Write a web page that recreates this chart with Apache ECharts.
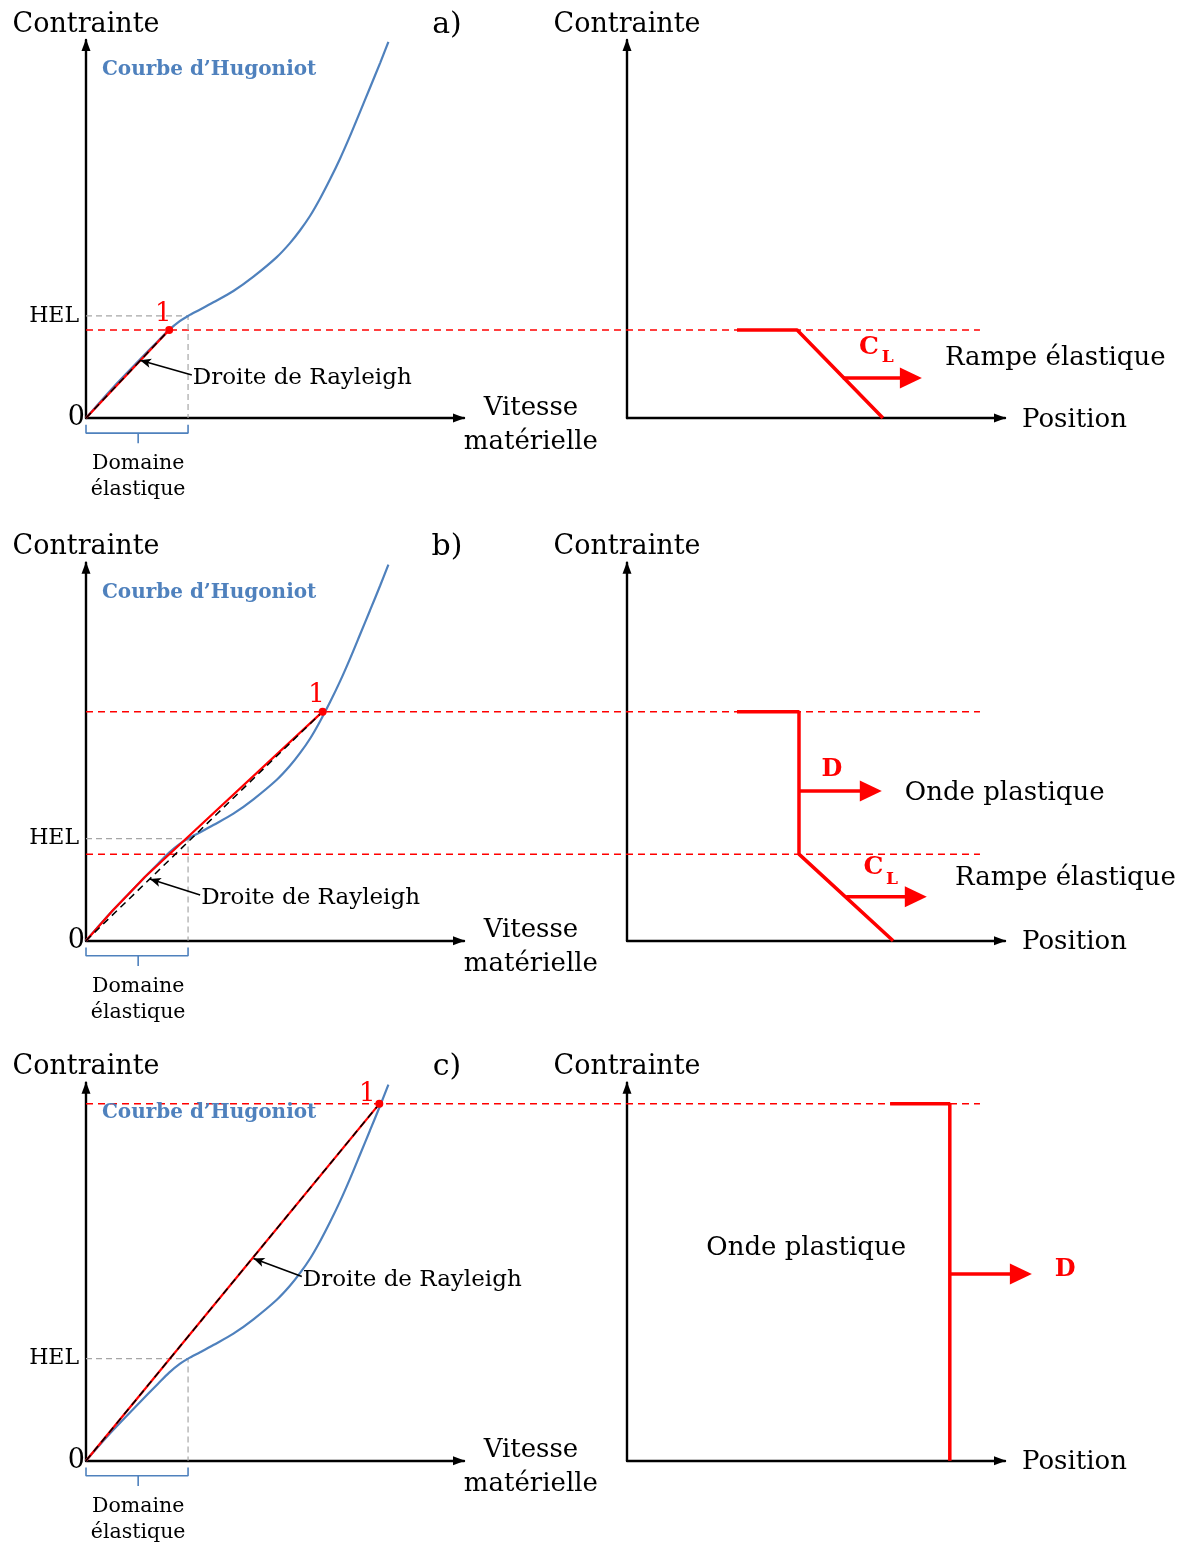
<!DOCTYPE html>
<html><head><meta charset="utf-8">
<script src="https://cdn.jsdelivr.net/npm/echarts@6/dist/echarts.min.js"></script>
<style>html,body{margin:0;padding:0;background:#fff}#c{width:1193px;height:1544px}</style>
</head><body><div id="c"></div>
<script>
const SERIF = '"DejaVu Serif", "Liberation Serif", serif';
const RED = '#ff0000', BLUE = '#4f81bd', GRAY = '#a6a6a6';

// ---- texts ----
const panelLetters = ['a)', 'b)', 'c)'];
const yAxisName = 'Contrainte';
const xAxisNameLeft = 'Vitesse\nmatérielle';
const xAxisNameRight = 'Position';
const hugoniotTitle = 'Courbe d\u2019Hugoniot';
const rayleighText = 'Droite de Rayleigh';
const elasticText = 'Domaine\nélastique';
const helText = 'HEL';
const stateText = '1';

// ---- shared Hugoniot curve (velocity, stress) ----
const hugoniot = [[0,0],[7,7.9],[14,15.2],[19,20.3],[22,23.3],[24.8,25.6],[27,27],
  [30.2,28.7],[33.7,30.6],[39,33.6],[44.3,37.4],[50.4,42.5],[53.9,46.2],[56.6,49.6],[59.3,53.5],
  [61.9,58],[64.6,63.2],[67.2,68.6],[69.8,74.5],[72.5,81],[75.1,87.3],[77.8,93.9],[80,99.5]];
const helPoint = [27, 27];
const elasticBracket = [[0,-1.8],[0,-4],[13.8,-4],[13.8,-6.7],[13.8,-4],[27,-4],[27,-1.8]];
const elasticLabelPos = [13.8, -15.6];
const hugoniotLabelPos = [4.2, 92];
const leftNamePos = [117.7, -1.85];
const rightNamePos = [104.5, -0.5];
const levelEndX = 236.5;

// ---- row a ----
const stateA = [22, 23.3];
const levelsA = [23.3];
const rayleighRedA = [[0,0],[22,23.3]];
const pointerA = [[28,11.4],[14.3,15.3]];
const profileA = [[29.1,23.3],[45,23.3],[67.7,0]];
const wavesA = [[[57.1,10.6],[75.1,10.6]]];
const waveLabelsA = [['C',[64,18.65],'sym'],['L',[69,15.9],'sub'],['Rampe élastique',[84.1,15.9],'txt']];

// ---- row b ----
const stateB = [62.6, 60.6];
const levelsB = [60.6, 22.9];
const rayleighRedB = [[0,0],[7,7.9],[14,15.2],[15.5,16.8],[62.6,60.6]];
const pointerB = [[30.2,12.1],[16.9,16.3]];
const profileB = [[29.1,60.6],[45.5,60.6],[45.5,22.9],[70.4,0]];
const wavesB = [[[45.5,39.6],[64.5,39.6]],[[58,11.6],[76.4,11.6]]];
const waveLabelsB = [['D',[54.2,45.1],'sym'],['Onde plastique',[73.5,39.1],'txt'],['C',[65.2,19.4],'sym'],['L',[70.1,16.3],'sub'],['Rampe élastique',[86.8,16.6],'txt']];

// ---- row c ----
const stateC = [77.6, 94.4];
const levelsC = [94.4];
const rayleighRedC = [[0,0],[77.6,94.4]];
const pointerC = [[57.1,48.7],[44.3,53.5]];
const profileC = [[69.6,94.4],[85.4,94.4],[85.4,0]];
const wavesC = [[[85.4,49.4],[104.2,49.4]]];
const waveLabelsC = [['D',[115.9,50.4],'sym'],['Onde plastique',[47.4,56.2],'center']];

const rows = [
  {top:40, state:stateA, levels:levelsA, red:rayleighRedA, pointer:pointerA, profile:profileA, waves:wavesA, wl:waveLabelsA, oneOffset:[-6,6]},
  {top:562.7, state:stateB, levels:levelsB, red:rayleighRedB, pointer:pointerB, profile:profileB, waves:wavesB, wl:waveLabelsB, oneOffset:[-6,6]},
  {top:1082.7, state:stateC, levels:levelsC, red:rayleighRedC, pointer:pointerC, profile:profileC, waves:wavesC, wl:waveLabelsC, oneOffset:[-12,12]}
];
const SIZE = 378, LEFT_X = 86, RIGHT_X = 627;

const grids = [], xAxes = [], yAxes = [], series = [], graphics = [];
const axisLine = {lineStyle:{color:'#000', width:2.4}, symbol:['none','triangle'], symbolSize:[9,12], symbolOffset:[0,-5]};
function axisBase(g){ return {gridIndex:g, type:'value', min:0, max:100, axisTick:{show:false}, axisLabel:{show:false}, splitLine:{show:false}, axisLine:axisLine}; }

function txt(idx, value, text, label){
  return {type:'scatter', xAxisIndex:idx, yAxisIndex:idx, clip:false, silent:true, symbolSize:0, z:10,
    itemStyle:{color:'transparent', opacity:1},
    data:[{value:value, label:Object.assign({show:true, formatter:text, color:'#000', opacity:1, fontFamily:SERIF, fontSize:24}, label)}]};
}
function line(idx, data, style, extra){
  return Object.assign({type:'line', xAxisIndex:idx, yAxisIndex:idx, clip:false, silent:true, symbol:'none', data:data, lineStyle:style}, extra||{});
}
function seg(idx, coords, style, extra){
  return Object.assign({type:'lines', coordinateSystem:'cartesian2d', xAxisIndex:idx, yAxisIndex:idx, clip:false, silent:true,
    polyline:true, lineStyle:Object.assign({opacity:1, curveness:0}, style), data:[{coords:coords}]}, extra||{});
}

rows.forEach((r, i) => {
  const L = i*2, R = i*2+1;
  grids.push({left:LEFT_X, top:r.top, width:SIZE, height:SIZE});
  grids.push({left:RIGHT_X, top:r.top, width:SIZE, height:SIZE});
  const yName = {name:yAxisName, nameLocation:'end', nameGap:2, nameTextStyle:{color:'#000', fontFamily:SERIF, fontSize:27}};
  xAxes.push(axisBase(L));
  yAxes.push(Object.assign(axisBase(L), yName));
  xAxes.push(axisBase(R));
  yAxes.push(Object.assign(axisBase(R), yName));

  // x-axis titles
  series.push(txt(L, leftNamePos, xAxisNameLeft, {position:'inside', fontSize:26, lineHeight:34}));
  series.push(txt(R, rightNamePos, xAxisNameRight, {position:'right', distance:0, fontSize:26}));

  // red level lines across both panels
  r.levels.forEach(l => series.push(seg(L, [[0,l],[levelEndX,l]], {color:RED, width:1.5, type:[7,5]}, {z:1})));
  // HEL guides
  series.push(line(L, [[0,helPoint[1]], helPoint, [helPoint[0],0]], {color:GRAY, width:1.2, type:[6,4]}, {z:1}));
  // Hugoniot
  series.push(line(L, hugoniot, {color:BLUE, width:2.2}, {smooth:0.3, z:3}));
  // red Rayleigh / path
  series.push(line(L, r.red, {color:RED, width:2.2}, {z:4}));
  // black dashed Rayleigh line + pointer arrow
  series.push(line(L, [[0,0], r.state], {color:'#000', width:1.5, type:[7,5]}, {z:5,
    markLine:{silent:true, animation:false, symbol:['none','arrow'], symbolSize:[7,11], label:{show:false},
      lineStyle:{color:'#000', width:1.6, type:'solid'}, emphasis:{disabled:true},
      data:[[{coord:r.pointer[0]},{coord:r.pointer[1]}]]}}));
  // state point 1
  series.push({type:'scatter', xAxisIndex:L, yAxisIndex:L, clip:false, silent:true, symbolSize:8, z:6,
    itemStyle:{color:RED, opacity:1}, data:[{value:r.state, label:{show:true, position:'top', distance:5, offset:r.oneOffset, formatter:stateText, color:RED, fontFamily:SERIF, fontSize:26}}]});
  // elastic bracket
  series.push(line(L, elasticBracket, {color:BLUE, width:1.6}));
  // texts
  series.push(txt(L, [0,0], '0', {position:'left', distance:1, fontSize:27}));
  series.push(txt(L, [0,helPoint[1]], helText, {position:'left', distance:7, fontSize:22}));
  series.push(txt(L, hugoniotLabelPos, hugoniotTitle, {position:'right', distance:0, fontSize:20, fontWeight:'bold', color:BLUE}));
  series.push(txt(L, r.pointer[0], rayleighText, {position:'right', distance:1, offset:[0,3], fontSize:23}));
  series.push(txt(L, elasticLabelPos, elasticText, {position:'inside', fontSize:20.5, lineHeight:26}));

  // right panel: wave profile
  series.push(line(R, r.profile, {color:RED, width:3.5}, {z:4}));
  r.waves.forEach(w => {
    series.push(seg(R, w, {color:RED, width:3.5}, {z:4}));
    series.push({type:'scatter', xAxisIndex:R, yAxisIndex:R, clip:false, silent:true, symbol:'triangle', symbolRotate:-90,
      symbolSize:[21,22], itemStyle:{color:RED, opacity:1}, z:4, data:[w[1]]});
  });
  r.wl.forEach(([t, v, kind]) => {
    if (kind === 'sym') series.push(txt(R, v, t, {position:'inside', fontSize:t === 'D' ? 24 : 25, fontWeight:'bold', color:RED}));
    else if (kind === 'sub') series.push(txt(R, v, t, {position:'inside', fontSize:17, fontWeight:'bold', color:RED}));
    else if (kind === 'center') series.push(txt(R, v, t, {position:'inside', fontSize:26}));
    else series.push(txt(R, v, t, {position:'right', distance:0, fontSize:26}));
  });

  graphics.push({type:'text', x:447, y:r.top - 15, style:{text:panelLetters[i], fill:'#000', font:'30px ' + SERIF, align:'center', verticalAlign:'middle'}});
});

const chart = echarts.init(document.getElementById('c'), null, {renderer:'canvas'});
chart.setOption({
  animation:false,
  backgroundColor:'#fff',
  grid:grids, xAxis:xAxes, yAxis:yAxes, series:series, graphic:graphics,
  tooltip:{show:false}
});
</script></body></html>
